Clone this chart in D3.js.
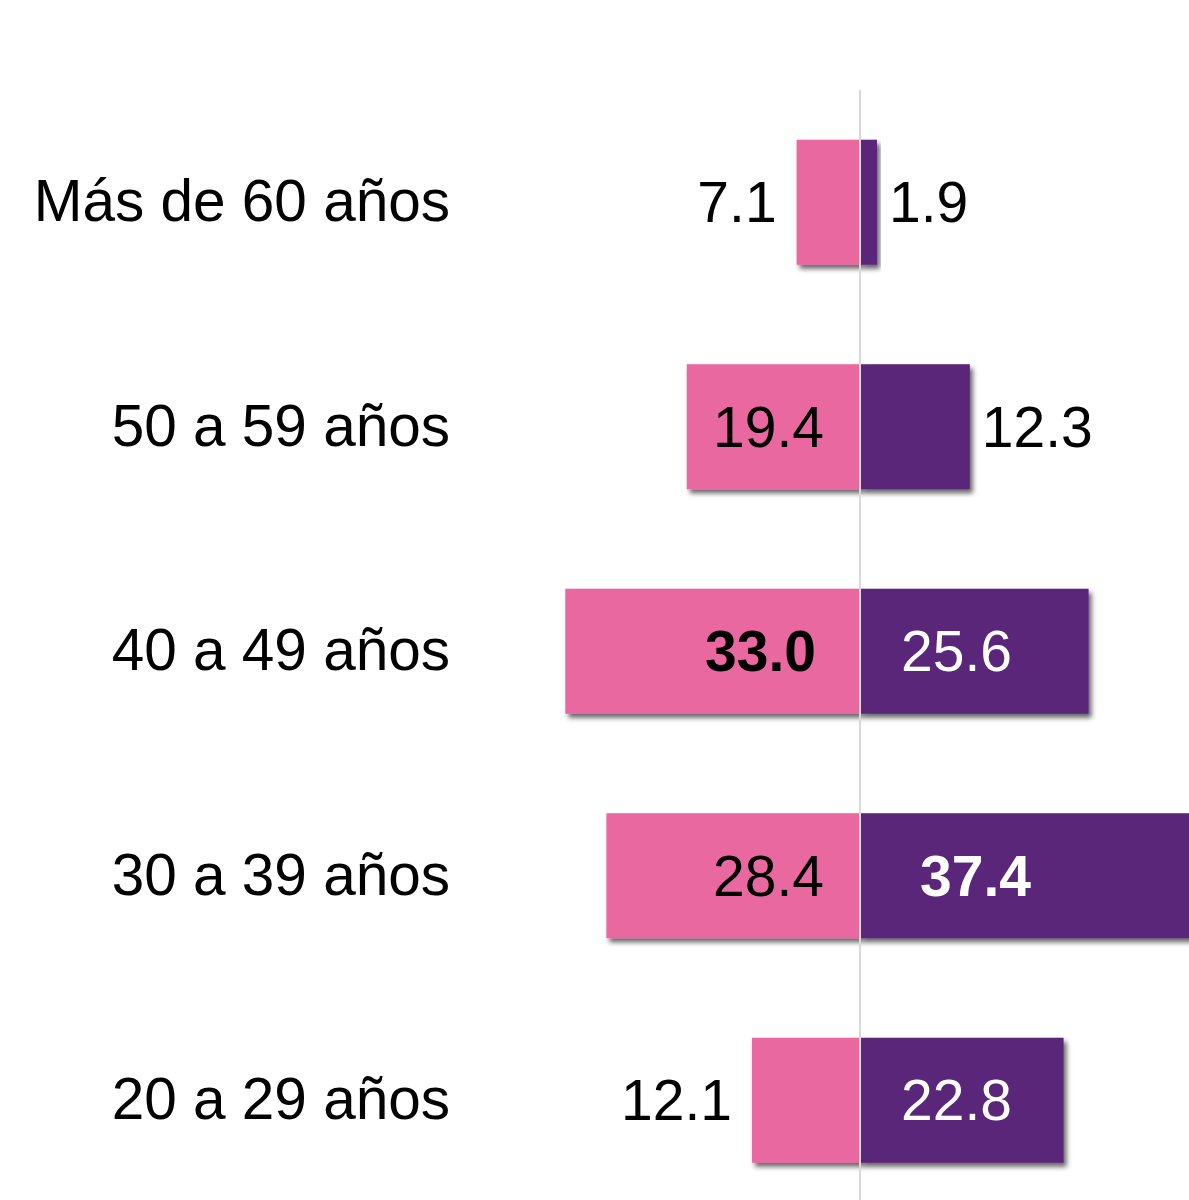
<!DOCTYPE html>
<html><head><meta charset="utf-8">
<script src="https://cdn.jsdelivr.net/npm/d3@7"></script>
<style>html,body{margin:0;padding:0;background:#fff;overflow:hidden}</style>
</head><body>
<script>
const categories = ["Más de 60 años","50 a 59 años","40 a 49 años","30 a 39 años","20 a 29 años"];
const womenValues = [7.1, 19.4, 33.0, 28.4, 12.1];
const menValues = [1.9, 12.3, 25.6, 37.4, 22.8];
const womenLabelInside = [false, true, true, true, false];
const menLabelInside = [false, false, true, true, true];
const womenBold = [false, false, true, false, false];
const menBold = [false, false, false, true, false];

const W = 1189, H = 1200, cx = 860;
const svg = d3.select("body").append("svg").attr("width", W).attr("height", H);
const defs = svg.append("defs");
const f = defs.append("filter").attr("id","sh").attr("x","-10%").attr("y","-10%").attr("width","130%").attr("height","130%");
f.append("feDropShadow").attr("dx",3).attr("dy",4).attr("stdDeviation",2.5).attr("flood-color","#000").attr("flood-opacity",0.6);

const y = d3.scaleBand().domain(categories).range([90, 1212.5]).paddingInner(0.443).paddingOuter(0.2215);
const xL = d3.scaleLinear().domain([0, 40]).range([cx, cx - 357.2]);
const xR = d3.scaleLinear().domain([0, 40]).range([cx, cx + 357.2]);
const pink = "#EA68A0", purple = "#5A2679";
const fs = 57;

const g = svg.append("g");
categories.forEach((c, i) => {
  const top = y(c), bh = y.bandwidth();
  g.append("rect").attr("x", xL(womenValues[i])).attr("y", top)
    .attr("width", cx - xL(womenValues[i])).attr("height", bh)
    .attr("fill", pink).attr("filter","url(#sh)");
  g.append("rect").attr("x", cx).attr("y", top)
    .attr("width", xR(menValues[i]) - cx).attr("height", bh)
    .attr("fill", purple).attr("filter","url(#sh)");
});

svg.append("line").attr("x1", cx).attr("x2", cx).attr("y1", 90).attr("y2", H)
  .attr("stroke", "#d9d9d9").attr("stroke-width", 2);

const font = "'Liberation Sans', Arial, sans-serif";
categories.forEach((c, i) => {
  const mid = y(c) + y.bandwidth() / 2;
  svg.append("text").attr("x", 450).attr("y", mid + 19).attr("text-anchor","end")
    .attr("font-family", font).attr("font-size", 58.5).attr("fill","#000").text(c);
  const wx = womenLabelInside[i] ? cx - (womenBold[i] ? 44 : 36) : xL(womenValues[i]) - 20;
  svg.append("text").attr("x", wx).attr("y", mid + 20).attr("text-anchor","end")
    .attr("font-family", font).attr("font-size", fs)
    .attr("font-weight", womenBold[i] ? "bold" : "normal")
    .attr("fill","#000").text(womenValues[i].toFixed(1));
  const mx = menLabelInside[i] ? cx + (menBold[i] ? 60 : 41) : xR(menValues[i]) + 12;
  svg.append("text").attr("x", mx).attr("y", mid + 20).attr("text-anchor","start")
    .attr("font-family", font).attr("font-size", fs)
    .attr("font-weight", menBold[i] ? "bold" : "normal")
    .attr("fill", menLabelInside[i] ? "#fff" : "#000").text(menValues[i].toFixed(1));
});
</script>
</body></html>
